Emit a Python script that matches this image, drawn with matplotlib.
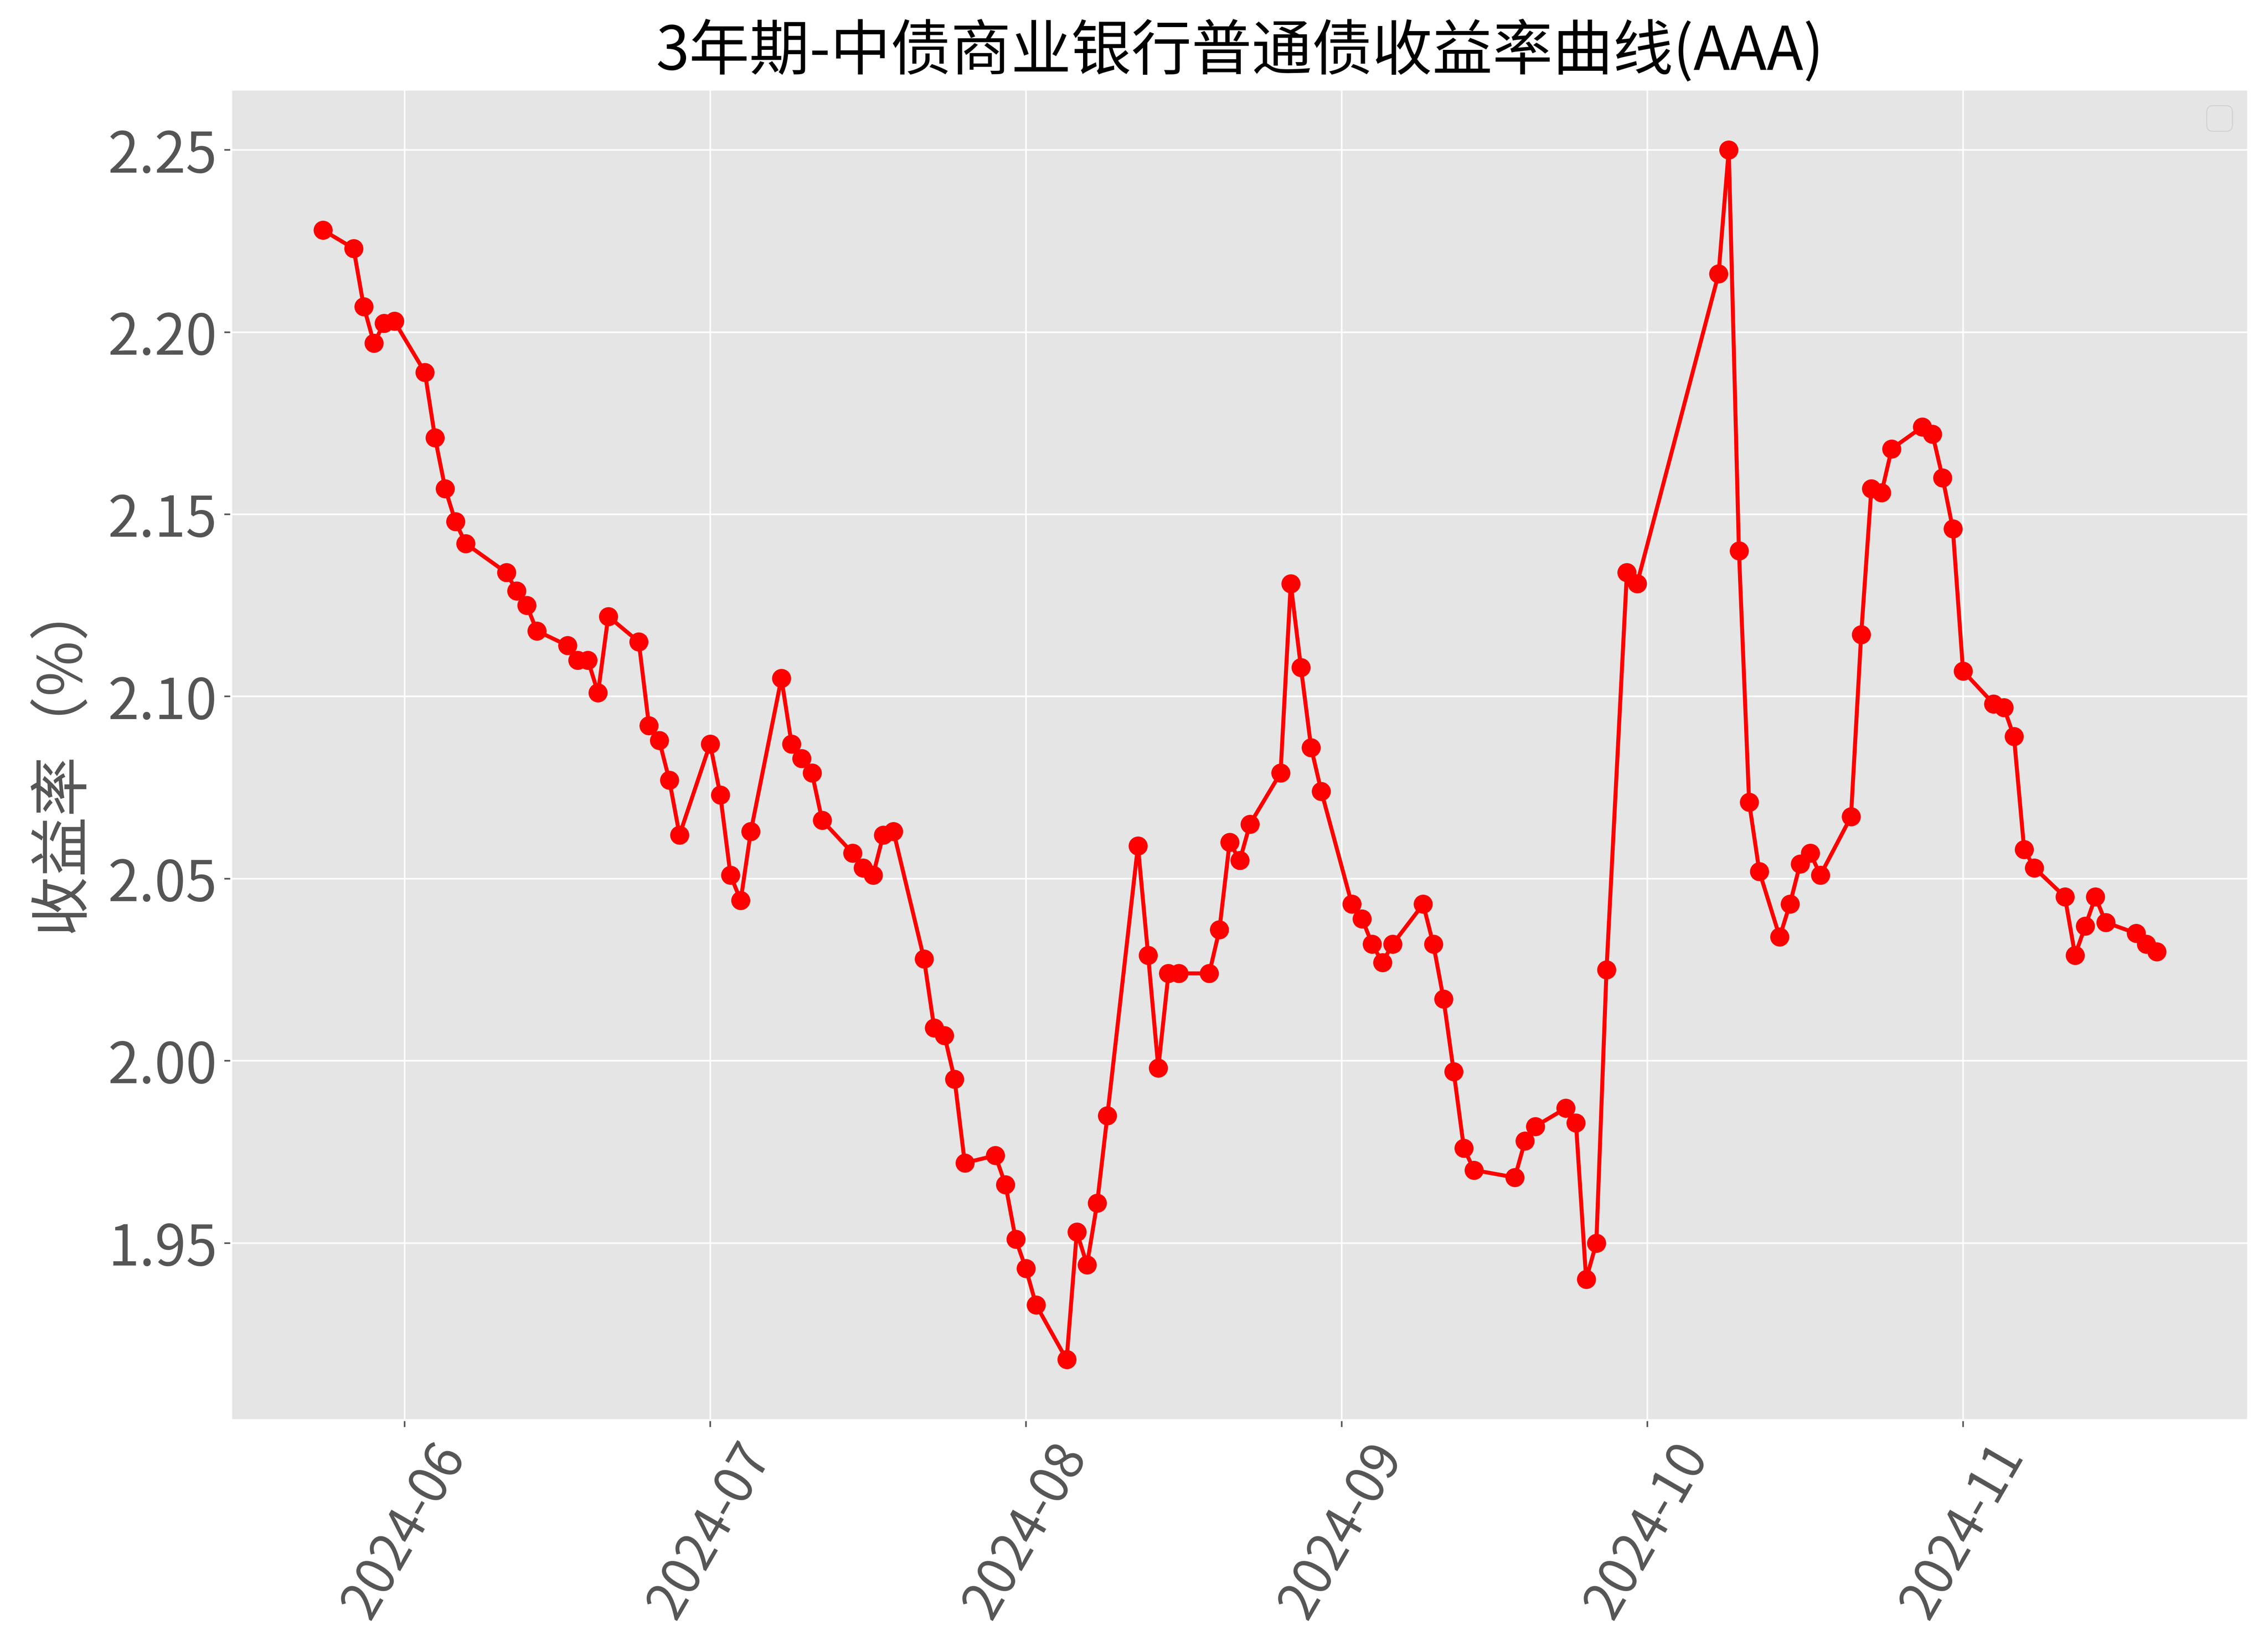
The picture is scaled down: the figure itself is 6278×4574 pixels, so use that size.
import matplotlib
matplotlib.use("Agg")
import matplotlib.pyplot as plt
import matplotlib.dates as mdates
import pandas as pd

plt.style.use("ggplot")
plt.rcParams['font.family'] = ['Noto Sans CJK SC', 'DejaVu Sans']
plt.rcParams['axes.unicode_minus'] = False

dates = [
    "2024-05-24", "2024-05-27", "2024-05-28", "2024-05-29", "2024-05-30", "2024-05-31",
    "2024-06-03", "2024-06-04", "2024-06-05", "2024-06-06", "2024-06-07",
    "2024-06-11", "2024-06-12", "2024-06-13", "2024-06-14",
    "2024-06-17", "2024-06-18", "2024-06-19", "2024-06-20", "2024-06-21",
    "2024-06-24", "2024-06-25", "2024-06-26", "2024-06-27", "2024-06-28",
    "2024-07-01", "2024-07-02", "2024-07-03", "2024-07-04", "2024-07-05",
    "2024-07-08", "2024-07-09", "2024-07-10", "2024-07-11", "2024-07-12",
    "2024-07-15", "2024-07-16", "2024-07-17", "2024-07-18", "2024-07-19",
    "2024-07-22", "2024-07-23", "2024-07-24", "2024-07-25", "2024-07-26",
    "2024-07-29", "2024-07-30", "2024-07-31", "2024-08-01", "2024-08-02",
    "2024-08-05", "2024-08-06", "2024-08-07", "2024-08-08", "2024-08-09",
    "2024-08-12", "2024-08-13", "2024-08-14", "2024-08-15", "2024-08-16",
    "2024-08-19", "2024-08-20", "2024-08-21", "2024-08-22", "2024-08-23",
    "2024-08-26", "2024-08-27", "2024-08-28", "2024-08-29", "2024-08-30",
    "2024-09-02", "2024-09-03", "2024-09-04", "2024-09-05", "2024-09-06",
    "2024-09-09", "2024-09-10", "2024-09-11", "2024-09-12", "2024-09-13", "2024-09-14",
    "2024-09-18", "2024-09-19", "2024-09-20",
    "2024-09-23", "2024-09-24", "2024-09-25", "2024-09-26", "2024-09-27",
    "2024-09-29", "2024-09-30",
    "2024-10-08", "2024-10-09", "2024-10-10", "2024-10-11", "2024-10-12",
    "2024-10-14", "2024-10-15", "2024-10-16", "2024-10-17", "2024-10-18",
    "2024-10-21", "2024-10-22", "2024-10-23", "2024-10-24", "2024-10-25",
    "2024-10-28", "2024-10-29", "2024-10-30", "2024-10-31", "2024-11-01",
    "2024-11-04", "2024-11-05", "2024-11-06", "2024-11-07", "2024-11-08",
    "2024-11-11", "2024-11-12", "2024-11-13", "2024-11-14", "2024-11-15",
    "2024-11-18", "2024-11-19", "2024-11-20",
]

yields = [
    2.228, 2.223, 2.207, 2.197, 2.2025, 2.203,
    2.189, 2.171, 2.157, 2.148, 2.142,
    2.134, 2.129, 2.125, 2.118,
    2.114, 2.110, 2.110, 2.101, 2.122,
    2.115, 2.092, 2.088, 2.077, 2.062,
    2.087, 2.073, 2.051, 2.044, 2.063,
    2.105, 2.087, 2.083, 2.079, 2.066,
    2.057, 2.053, 2.051, 2.062, 2.063,
    2.028, 2.009, 2.007, 1.995, 1.972,
    1.974, 1.966, 1.951, 1.943, 1.933,
    1.918, 1.953, 1.944, 1.961, 1.985,
    2.059, 2.029, 1.998, 2.024, 2.024,
    2.024, 2.036, 2.060, 2.055, 2.065,
    2.079, 2.131, 2.108, 2.086, 2.074,
    2.043, 2.039, 2.032, 2.027, 2.032,
    2.043, 2.032, 2.017, 1.997, 1.976, 1.970,
    1.968, 1.978, 1.982,
    1.987, 1.983, 1.940, 1.950, 2.025,
    2.134, 2.131,
    2.216, 2.250, 2.140, 2.071, 2.052,
    2.034, 2.043, 2.054, 2.057, 2.051,
    2.067, 2.117, 2.157, 2.156, 2.168,
    2.174, 2.172, 2.160, 2.146, 2.107,
    2.098, 2.097, 2.089, 2.058, 2.053,
    2.045, 2.029, 2.037, 2.045, 2.038,
    2.035, 2.032, 2.030,
]

title = "3年期-中债商业银行普通债收益率曲线(AAA)"
ylabel = "收益率（%）"

x = pd.to_datetime(dates)

fig = plt.figure(figsize=(6278 / 400, 4574 / 400), dpi=400)
ax = fig.add_axes([0.102, 0.1404, 0.8893, 0.8054])

ax.plot(x, yields, color="red", linewidth=2.0, marker="o", markersize=8.5)

ax.set_title(title, fontsize=30, color="black", pad=10)
ax.set_ylabel(ylabel, fontsize=30, color="#555555", labelpad=8)
ax.tick_params(axis="y", labelsize=28, colors="#555555")
ax.tick_params(axis="x", labelsize=26, colors="#555555")
ax.xaxis.set_major_locator(mdates.MonthLocator())
ax.xaxis.set_major_formatter(mdates.DateFormatter("%Y-%m"))
for lbl in ax.get_xticklabels():
    lbl.set_rotation(60)
ax.legend(fontsize=16)

fig.savefig("out.png", dpi=400)
